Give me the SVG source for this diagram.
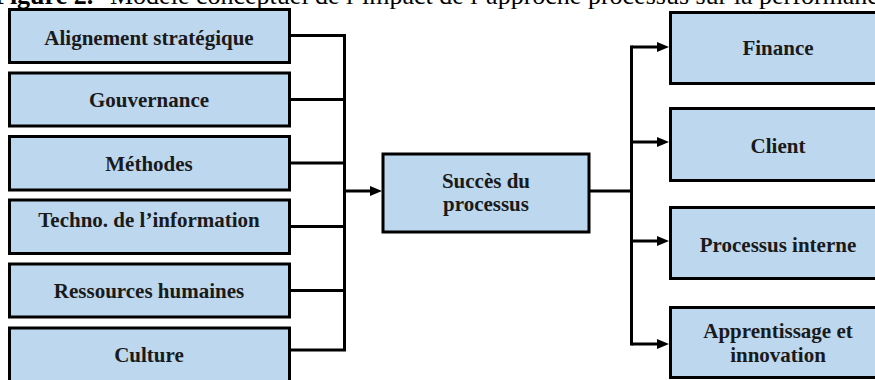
<svg xmlns="http://www.w3.org/2000/svg" width="875" height="380" viewBox="0 0 875 380">
<style>
.box{fill:#BDD7EE;stroke:#000;stroke-width:3}
.lbl{font-family:"Liberation Serif","Times New Roman",serif;font-weight:bold;font-size:21px;fill:#1a1a1a;text-anchor:middle}
.cap{font-family:"Liberation Serif","Times New Roman",serif;font-size:26px;fill:#000}
.ln{stroke:#000;stroke-width:3;fill:none}
</style>
<defs>
<marker id="arr" viewBox="0 0 12 10" refX="0" refY="5" markerWidth="12" markerHeight="10" markerUnits="userSpaceOnUse" orient="auto">
<path d="M0,0 L12,5 L0,10 Z" fill="#000"/>
</marker>
</defs>
<text class="cap" y="4"><tspan x="-6" font-weight="bold">Figure 2.</tspan><tspan x="110">Modèle conceptuel de l’impact de l’approche processus sur la performance</tspan></text>
<g id="connectors">
<path class="ln" d="M290,35.5 H344.5 M290,99.5 H344.5 M290,163 H344.5 M290,226.5 H344.5 M290,290.5 H344.5 M290,350 H344.5 M344.5,34 V351.5"/>
<line class="ln" x1="344.5" y1="191" x2="370" y2="191" marker-end="url(#arr)"/>
<path class="ln" d="M590,191 H631.5 M631.5,45.5 V345.5"/>
<line class="ln" x1="631.5" y1="47" x2="657" y2="47" marker-end="url(#arr)"/>
<line class="ln" x1="631.5" y1="142" x2="657" y2="142" marker-end="url(#arr)"/>
<line class="ln" x1="631.5" y1="241" x2="657" y2="241" marker-end="url(#arr)"/>
<line class="ln" x1="631.5" y1="344" x2="657" y2="344" marker-end="url(#arr)"/>
</g>
<g id="n1"><rect class="box" x="9.5" y="9.5" width="280" height="53"/><text class="lbl" x="149" y="45">Alignement stratégique</text></g>
<g id="n2"><rect class="box" x="9.5" y="73" width="280" height="53"/><text class="lbl" x="149" y="107">Gouvernance</text></g>
<g id="n3"><rect class="box" x="9.5" y="136.5" width="280" height="53.5"/><text class="lbl" x="149" y="171">Méthodes</text></g>
<g id="n4"><rect class="box" x="9.5" y="200" width="280" height="53.5"/><text class="lbl" x="149" y="227">Techno. de l’information</text></g>
<g id="n5"><rect class="box" x="9.5" y="264" width="280" height="53"/><text class="lbl" x="149" y="298">Ressources humaines</text></g>
<g id="n6"><rect class="box" x="9.5" y="328" width="280" height="60"/><text class="lbl" x="149" y="362">Culture</text></g>
<g id="center"><rect class="box" x="383" y="154" width="206" height="78"/><text class="lbl" x="486" y="188">Succès du</text><text class="lbl" x="486" y="211">processus</text></g>
<g id="r1"><rect class="box" x="670.5" y="12.5" width="216" height="71"/><text class="lbl" x="778" y="55">Finance</text></g>
<g id="r2"><rect class="box" x="670.5" y="108.5" width="216" height="72"/><text class="lbl" x="778" y="153">Client</text></g>
<g id="r3"><rect class="box" x="670.5" y="207.5" width="216" height="71"/><text class="lbl" x="778" y="252">Processus interne</text></g>
<g id="r4"><rect class="box" x="670.5" y="307.5" width="216" height="70"/><text class="lbl" x="778" y="338">Apprentissage et</text><text class="lbl" x="778" y="362">innovation</text></g>
</svg>
